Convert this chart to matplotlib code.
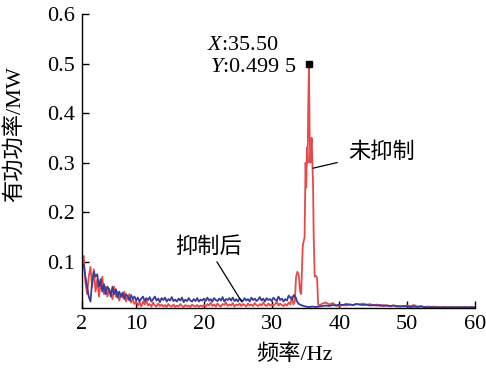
import numpy as np
import matplotlib
matplotlib.use('Agg')
import matplotlib.pyplot as plt

plt.rcParams['font.family'] = ['Liberation Serif', 'Noto Sans CJK SC']
plt.rcParams['mathtext.fontset'] = 'custom'
plt.rcParams['mathtext.rm'] = 'Liberation Serif'
plt.rcParams['mathtext.it'] = 'Liberation Serif:italic'

# 未抑制 (red): low band 2..32.75 Hz, step 0.25
red_low_f = np.arange(2, 33, 0.25)
red_low_v = [
    0.085, 0.112, 0.060, 0.035, 0.070, 0.090, 0.050, 0.085,
    0.040, 0.065, 0.030, 0.055, 0.070, 0.035, 0.050, 0.030,
    0.045, 0.040, 0.025, 0.050, 0.030, 0.040, 0.022, 0.035,
    0.028, 0.040, 0.020, 0.030, 0.035, 0.018, 0.025, 0.015,
    0.020, 0.012, 0.018, 0.010, 0.020, 0.014, 0.022, 0.012,
    0.015, 0.010, 0.018, 0.012, 0.010, 0.016, 0.011, 0.014,
    0.010, 0.013, 0.009, 0.015, 0.011, 0.010, 0.014, 0.009,
    0.012, 0.010, 0.015, 0.011, 0.009, 0.013, 0.010, 0.012,
    0.009, 0.014, 0.011, 0.010, 0.013, 0.009, 0.012, 0.010,
    0.013, 0.010, 0.015, 0.012, 0.018, 0.011, 0.014, 0.010,
    0.016, 0.012, 0.010, 0.015, 0.013, 0.018, 0.011, 0.014,
    0.012, 0.017, 0.010, 0.014, 0.012, 0.016, 0.011, 0.015,
    0.013, 0.010, 0.016, 0.012, 0.014, 0.011, 0.017, 0.013,
    0.011, 0.015, 0.012, 0.018, 0.013, 0.011, 0.016, 0.012,
    0.014, 0.011, 0.015, 0.020, 0.012, 0.016, 0.013, 0.011,
    0.015, 0.012, 0.018, 0.014,
]
# resonance peak
red_pk_f = [33.0, 33.2, 33.4, 33.6, 33.8, 34.0, 34.2, 34.35, 34.5, 34.6,
            34.7, 34.85, 35.0, 35.1, 35.2, 35.3, 35.4, 35.5, 35.6, 35.7,
            35.8, 35.9, 36.0, 36.1, 36.2, 36.35, 36.5, 36.7, 36.85, 37.0]
red_pk_v = [0.030, 0.014, 0.020, 0.070, 0.080, 0.072, 0.040, 0.035, 0.100, 0.135,
            0.140, 0.150, 0.300, 0.250, 0.330, 0.300, 0.420, 0.4995, 0.360, 0.300,
            0.330, 0.350, 0.300, 0.260, 0.150, 0.070, 0.072, 0.068, 0.015, 0.012]
# high band 37.5..60 Hz, step 0.5
red_hi_f = np.arange(37.5, 60.01, 0.5)
red_hi_v = [
    0.016, 0.018, 0.014, 0.017,
    0.012, 0.011, 0.013, 0.012, 0.014, 0.013, 0.015, 0.014, 0.016, 0.013, 0.015,
    0.012, 0.014, 0.011, 0.013, 0.012, 0.011, 0.012, 0.010, 0.011, 0.010,
    0.012, 0.011, 0.013, 0.010, 0.011, 0.009, 0.010, 0.009, 0.010, 0.008, 0.009,
    0.008, 0.009, 0.008, 0.009, 0.008, 0.009, 0.008, 0.009, 0.008, 0.009,
]

# 抑制后 (blue)
blue_low_f = np.arange(2, 34, 0.25)
blue_low_v = [
    0.090, 0.095, 0.070, 0.050, 0.030, 0.020, 0.060, 0.080,
    0.070, 0.075, 0.050, 0.065, 0.040, 0.055, 0.035, 0.050,
    0.045, 0.030, 0.050, 0.035, 0.045, 0.028, 0.040, 0.030,
    0.038, 0.025, 0.035, 0.030, 0.022, 0.033, 0.026, 0.030,
    0.022, 0.028, 0.020, 0.026, 0.030, 0.021, 0.027, 0.023,
    0.029, 0.020, 0.025, 0.030, 0.022, 0.026, 0.019, 0.027,
    0.023, 0.028, 0.020, 0.025, 0.022, 0.029, 0.021, 0.024,
    0.020, 0.026, 0.022, 0.028, 0.019, 0.024, 0.021, 0.027,
    0.022, 0.020, 0.025, 0.021, 0.027, 0.020, 0.024, 0.022,
    0.026, 0.021, 0.028, 0.022, 0.025, 0.020, 0.027, 0.023,
    0.021, 0.026, 0.022, 0.029, 0.020, 0.025, 0.023, 0.027,
    0.022, 0.028, 0.021, 0.025, 0.020, 0.026, 0.023, 0.021,
    0.027, 0.022, 0.025, 0.020, 0.028, 0.023, 0.026, 0.021,
    0.024, 0.029, 0.022, 0.026, 0.020, 0.027, 0.023, 0.025,
    0.021, 0.028, 0.024, 0.022, 0.030, 0.023, 0.026, 0.020,
    0.025, 0.022, 0.032, 0.028, 0.024, 0.033, 0.030, 0.020,
]
blue_hi_f = np.arange(34, 60.01, 0.5)
blue_hi_v = [
    0.015, 0.012, 0.010, 0.009, 0.010, 0.009, 0.010, 0.011, 0.012, 0.011, 0.013, 0.012,
    0.014, 0.013, 0.015, 0.014, 0.013, 0.015, 0.014, 0.013, 0.014, 0.012,
    0.013, 0.012, 0.013, 0.011, 0.012, 0.011, 0.012, 0.011, 0.010, 0.011,
    0.010, 0.009, 0.010, 0.009, 0.010, 0.009, 0.008, 0.009, 0.008, 0.009,
    0.008, 0.009, 0.008, 0.009, 0.008, 0.009, 0.008, 0.009, 0.008, 0.009, 0.008,
]

red_f = np.concatenate([red_low_f, red_pk_f, red_hi_f])
red_v = np.concatenate([red_low_v, red_pk_v, red_hi_v])
blue_f = np.concatenate([blue_low_f, blue_hi_f])
blue_v = np.concatenate([blue_low_v, blue_hi_v])

peak_x, peak_y = 35.5, 0.4995

fig = plt.figure(figsize=(4.86, 3.71), dpi=100)
ax = fig.add_axes([0.1687, 0.1698, 0.8086, 0.7925])

ax.plot(red_f, red_v, color='#e44a4c', lw=1.3)
ax.plot(blue_f, blue_v, color='#3b3d95', lw=1.3)
ax.plot(peak_x, peak_y, 's', color='k', ms=4)

ax.set_xlim(2, 60)
ax.set_ylim(0.007, 0.6)
ax.set_xticks([2, 10, 20, 30, 40, 50, 60])
ax.set_yticks([0.1, 0.2, 0.3, 0.4, 0.5, 0.6])
ax.set_yticklabels(['0.1', '0.2', '0.3', '0.4', '0.5', '0.6'])
ax.spines['top'].set_visible(False)
ax.spines['right'].set_visible(False)
for s in ['left', 'bottom']:
    ax.spines[s].set_linewidth(1.0)
ax.tick_params(direction='in', length=5, width=1, labelsize=16, pad=5)

ax.set_xlabel('频率/Hz', fontsize=16)
ax.set_ylabel('有功功率/MW', fontsize=16)
ax.xaxis.set_label_coords(0.54, -0.125)
ax.yaxis.set_label_coords(-0.145, 0.59)

ax.text(20.4, 0.537, '$X$:35.50', fontsize=16, ha='left', va='center')
ax.text(20.9, 0.492, '$Y$:0.499 5', fontsize=16, ha='left', va='center')

ax.annotate('抑制后', xy=(25.6, 0.019), xytext=(20.6, 0.129), fontsize=16,
            ha='center', va='center',
            arrowprops=dict(arrowstyle='-', color='k', lw=0.9, shrinkA=1, shrinkB=0))
ax.annotate('未抑制', xy=(36.1, 0.289), xytext=(46.2, 0.321), fontsize=16,
            ha='center', va='center',
            arrowprops=dict(arrowstyle='-', color='k', lw=0.9, shrinkA=6, shrinkB=0))

fig.savefig('out.png', dpi=100)
